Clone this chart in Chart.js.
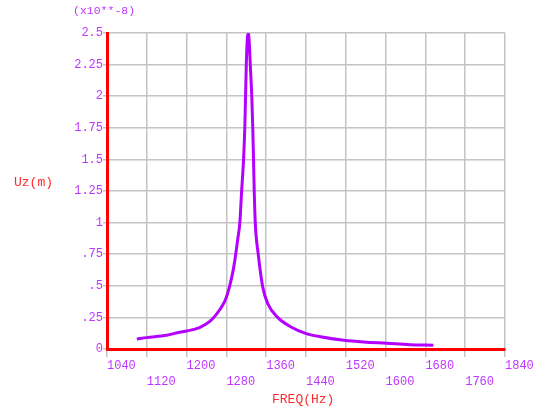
<!DOCTYPE html>
<html>
<head>
<meta charset="utf-8">
<script src="https://cdn.jsdelivr.net/npm/chart.js@4"></script>
<style>
  html, body { margin: 0; padding: 0; background: #fff; }
  #wrap { width: 543px; height: 411px; }
</style>
</head>
<body>
<div id="wrap"><canvas id="freqChart" width="543" height="411"></canvas></div>
<script>
// values (Uz in units of 1e-8 m)
const freqs = [1100, 1120, 1160, 1186, 1200, 1226, 1246, 1259, 1273, 1279,
    1286, 1293, 1298, 1302.5, 1307, 1310.5, 1314.5, 1317, 1318.5, 1320,
    1322, 1324, 1326, 1328, 1331, 1333, 1334.5, 1336, 1338, 1344,
    1353, 1363, 1383, 1409, 1439, 1469, 1516, 1556, 1602, 1649, 1696];
const uz = [0.079, 0.09, 0.108, 0.133, 0.142, 0.17, 0.216, 0.27, 0.35, 0.40,
    0.49, 0.61, 0.73, 0.86, 1.0, 1.24, 1.5, 1.75, 2.0, 2.25,
    2.45, 2.5, 2.42, 2.25, 2.0, 1.75, 1.5, 1.24, 1.0, 0.75,
    0.49, 0.36, 0.25, 0.176, 0.124, 0.097, 0.069, 0.055, 0.045, 0.034, 0.03];
const xRange = [1040, 1840];
const xStep = 80;
const yRange = [0, 2.5];
const yStep = 0.25;
const yScaleNote = '(x10**-8)';
const yTitle = 'Uz(m)';
const xTitle = 'FREQ(Hz)';

const tickColor = '#c035ff';
const titleColor = '#ff2a2a';
const mono = '"Liberation Mono", "DejaVu Sans Mono", monospace';

const points = freqs.map((f, i) => ({ x: f, y: uz[i] }));

// extra texts: exponent note, y title (horizontal), x title
const textPlugin = {
    id: 'ansysTexts',
    afterDraw(chart) {
        const c = chart.ctx;
        c.save();
        c.textBaseline = 'middle';
        c.textAlign = 'left';
        c.font = '11.5px ' + mono;
        c.fillStyle = tickColor;
        c.fillText(yScaleNote, 73, 11);
        c.font = '13px ' + mono;
        c.fillStyle = titleColor;
        c.fillText(yTitle, 14, 183);
        c.fillText(xTitle, 272, 400);
        c.restore();
    }
};

new Chart(document.getElementById('freqChart'), {
    type: 'line',
    data: {
        datasets: [{
            data: points,
            borderColor: '#b400ff',
            borderWidth: 3,
            pointRadius: 0,
            fill: false,
            cubicInterpolationMode: 'monotone'
        }]
    },
    options: {
        responsive: false,
        animation: false,
        layout: { padding: { top: 33, right: 38, left: 0, bottom: 0 } },
        plugins: { legend: { display: false }, tooltip: { enabled: false } },
        scales: {
            x: {
                type: 'linear',
                min: xRange[0],
                max: xRange[1],
                afterFit: s => { s.height = 62; },
                grid: { color: '#c4c4c4', lineWidth: 1.5, tickLength: 8 },
                border: { color: '#ff0000', width: 3 },
                ticks: {
                    stepSize: xStep,
                    align: 'start',
                    padding: 1,
                    maxRotation: 0,
                    autoSkip: false,
                    color: tickColor,
                    font: { family: mono, size: 12, lineHeight: 1.33 },
                    callback: (v, i) => i % 2 === 0 ? [String(v), ''] : ['', String(v)]
                }
            },
            y: {
                min: yRange[0],
                max: yRange[1],
                afterFit: s => { s.width = 107; },
                grid: { color: '#c4c4c4', lineWidth: 1.5, tickLength: 4 },
                border: { color: '#ff0000', width: 3 },
                ticks: {
                    stepSize: yStep,
                    padding: 0,
                    color: tickColor,
                    font: { family: mono, size: 12 },
                    callback: v => String(Number(v.toFixed(2))).replace(/^0\./, '.')
                }
            }
        }
    },
    plugins: [textPlugin]
});
</script>
</body>
</html>
